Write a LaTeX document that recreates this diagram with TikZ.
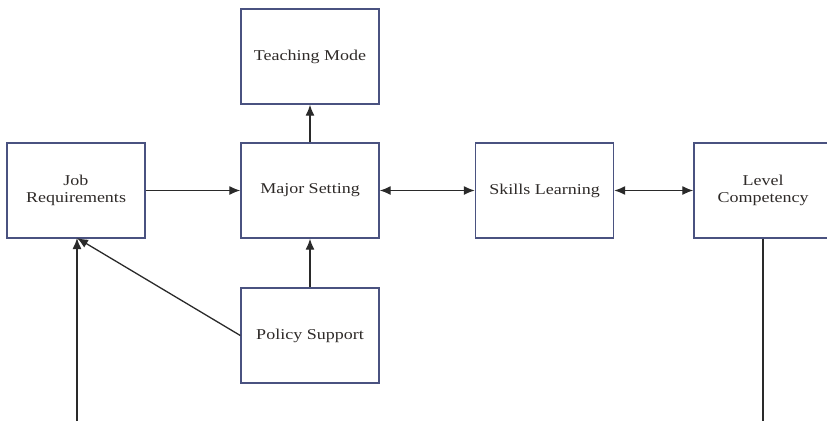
\documentclass[tikz,border=0pt]{standalone}
\usepackage{fontspec}
\setmainfont{Liberation Serif}[FakeStretch=1.2]
\usepackage{xcolor}
\usetikzlibrary{arrows.meta}

\definecolor{boxline}{HTML}{4A5280}
\definecolor{arrowline}{HTML}{2A2A2A}
\definecolor{labeltext}{HTML}{2E2A28}

\begin{document}
\begin{tikzpicture}[x=1pt, y=-1pt,
    block/.style={draw=boxline, line width=1.4pt, minimum width=138pt, minimum height=95pt,
        inner sep=0pt, align=center, text=labeltext, font=\fontsize{15}{17}\selectfont},
    link/.style={draw=arrowline, line width=1.3pt, -{Latex[length=11pt,width=9pt]}},
    both/.style={link, {Latex[length=11pt,width=9pt]}-{Latex[length=11pt,width=9pt]}}]
        \useasboundingbox (0,0) rectangle (827,421);

        % The boxes
        \node[block] (mode) at (310,56.5) {Teaching Mode};
        \node[block] (job) at (76,190.5) {Job\\Requirements};
        \node[block] (major) at (310,190.5) {Major Setting};
        \node[block] (skills) at (544.5,190.5) {Skills Learning};
        \node[block] (level) at (763,190.5) {Level\\Competency};
        \node[block] (policy) at (310,335.5) {Policy Support};

        % Free ends at the lower edge
        \coordinate (inflow) at (77,421);
        \coordinate (outflow) at (763,421);
        \coordinate (jobfoot) at (77,238);

        % Arrows between the boxes
        \draw[link] (job) -- (major);
        \draw[both] (major) -- (skills);
        \draw[both] (skills) -- (level);
        \draw[link] (major) -- (mode);
        \draw[link] (policy) -- (major);
        \draw[link] (policy.west) -- (jobfoot);
        \draw[link] (inflow) -- (jobfoot);
        \draw[draw=arrowline, line width=1.3pt] (level.south) -- (outflow);
    \end{tikzpicture}
\end{document}
